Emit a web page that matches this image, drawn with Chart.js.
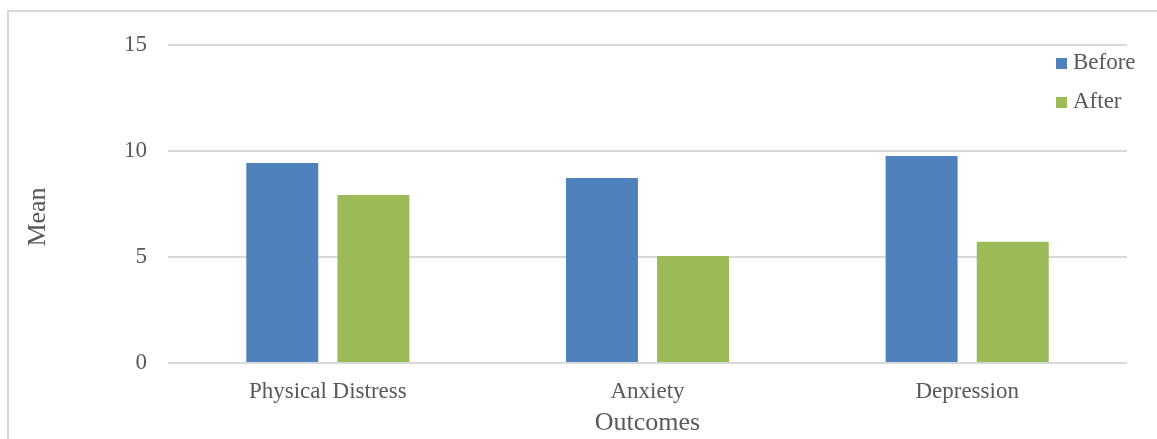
<!DOCTYPE html>
<html>
<head>
<meta charset="utf-8">
<script src="https://cdn.jsdelivr.net/npm/chart.js@4/dist/chart.umd.min.js"></script>
<style>
  html, body { margin: 0; padding: 0; background: #ffffff; overflow: hidden; }
  #wrap { position: relative; width: 1157px; height: 439px; }
  #frame {
    position: absolute; left: 7px; top: 10px; width: 2000px; height: 2000px;
    border-left: 2px solid #d9d9d9; border-top: 2px solid #d9d9d9;
  }
  #chart { position: absolute; left: 0; top: 0; }
</style>
</head>
<body>
<div id="wrap">
  <div id="frame"></div>
  <canvas id="chart" width="1157" height="439"></canvas>
</div>
<script>
// Mean scores per outcome, before and after
const categories = ['Physical Distress', 'Anxiety', 'Depression'];
const beforeValues = [9.43, 8.73, 9.76];
const afterValues = [7.93, 5.05, 5.72];
const seriesNames = ['Before', 'After'];
const yTicks = [0, 5, 10, 15];

const serif = "'Liberation Serif', 'Times New Roman', serif";
const textColor = '#595959';

// Legend drawn inside the plot area, stacked at the top right
const innerLegend = {
  id: 'innerLegend',
  afterDraw(chart) {
    const ctx = chart.ctx;
    const sets = chart.data.datasets;
    const rows = [62, 101];
    ctx.save();
    ctx.font = '23px ' + serif;
    ctx.textBaseline = 'middle';
    ctx.textAlign = 'left';
    sets.forEach((ds, i) => {
      const y = rows[i];
      ctx.fillStyle = ds.backgroundColor;
      ctx.fillRect(1056, y - 4, 11, 11);
      ctx.fillStyle = textColor;
      ctx.fillText(ds.label, 1073, y + 1);
    });
    ctx.restore();
  }
};

new Chart(document.getElementById('chart'), {
  type: 'bar',
  data: {
    labels: categories,
    datasets: [
      { label: seriesNames[0], data: beforeValues, backgroundColor: '#4f81bd' },
      { label: seriesNames[1], data: afterValues, backgroundColor: '#9bbb59' }
    ]
  },
  options: {
    responsive: false,
    animation: false,
    devicePixelRatio: 1,
    layout: { padding: { top: 45, right: 30, bottom: 0, left: 0 } },
    plugins: {
      legend: { display: false },
      tooltip: { enabled: false },
      title: { display: false }
    },
    datasets: {
      bar: { categoryPercentage: 0.57, barPercentage: 0.79 }
    },
    scales: {
      x: {
        grid: { display: false, drawTicks: false },
        border: { display: false },
        ticks: {
          color: textColor,
          font: { family: serif, size: 23 },
          padding: 15,
          maxRotation: 0
        },
        title: {
          display: true,
          text: 'Outcomes',
          color: textColor,
          font: { family: serif, size: 26 },
          padding: { top: 0, bottom: 0 }
        },
        afterFit(scale) { scale.height = 76; }
      },
      y: {
        min: 0,
        max: 15,
        afterBuildTicks(scale) { scale.ticks = yTicks.map(v => ({ value: v })); },
        grid: { color: '#d9d9d9', lineWidth: 2, drawTicks: false },
        border: { display: false },
        ticks: {
          color: textColor,
          font: { family: serif, size: 23 },
          padding: 21
        },
        title: {
          display: true,
          // trailing spaces nudge the rotated title a little below the axis middle
          text: 'Mean    ',
          color: textColor,
          font: { family: serif, size: 26 },
          padding: { top: 23, bottom: 0 }
        },
        afterFit(scale) { scale.width = 168; }
      }
    }
  },
  plugins: [innerLegend]
});
</script>
</body>
</html>
